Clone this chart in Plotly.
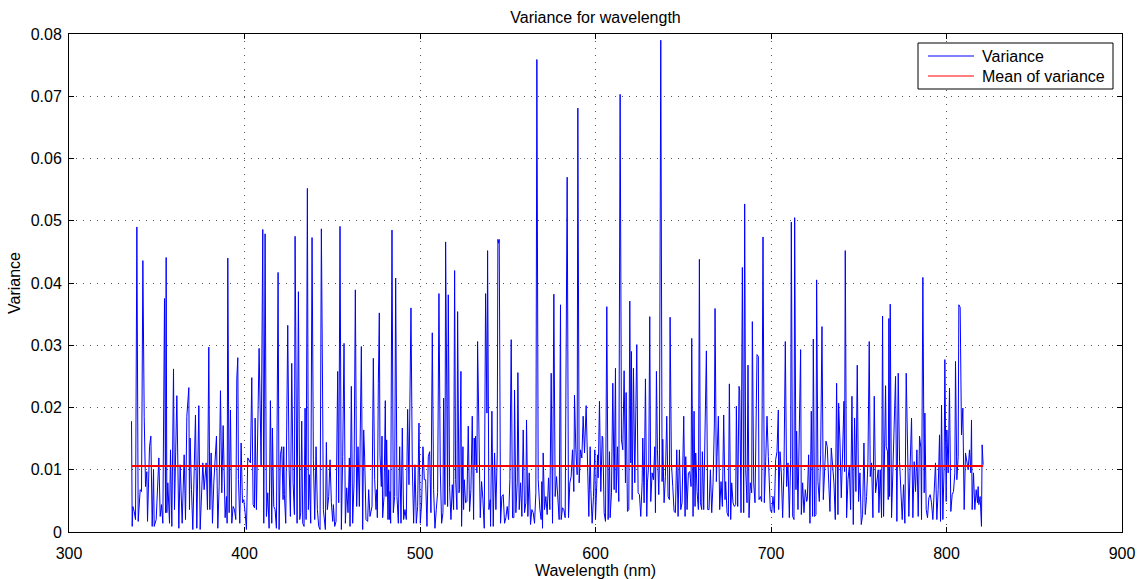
import plotly.graph_objects as go

# ---- data (wavelength in nm, variance) ----
wl_1 = [335.63, 336.01, 336.39, 337.15, 337.91, 338.67, 339.43, 340.57, 341.33, 342.09, 342.85, 343.61, 344.36, 344.74,
        345.88, 346.64, 347.40, 348.16, 348.54, 349.68, 351.20, 351.96, 352.71, 353.47, 354.42, 354.99, 355.37, 355.75,
        356.32, 357.27, 357.84, 358.60, 359.55, 360.12, 361.44, 362.01, 362.58, 363.34, 364.48, 365.62, 366.38, 367.14,
        368.28, 368.65, 369.03, 369.79, 370.55, 372.07, 372.83, 373.97, 374.73, 376.25, 377.00, 378.14, 378.90, 379.66]
var_1 = [0.0178, 0.0009, 0.0041, 0.0033, 0.0020, 0.0490, 0.0017, 0.0068, 0.0065, 0.0436, 0.0186, 0.0073, 0.0097, 0.0017,
         0.0137, 0.0154, 0.0009, 0.0100, 0.0009, 0.0020, 0.0119, 0.0025, 0.0044, 0.0014, 0.0375, 0.0031, 0.0441, 0.0031,
         0.0079, 0.0014, 0.0132, 0.0009, 0.0262, 0.0036, 0.0219, 0.0089, 0.0006, 0.0108, 0.0014, 0.0124, 0.0020, 0.0186,
         0.0232, 0.0036, 0.0151, 0.0068, 0.0004, 0.0188, 0.0006, 0.0203, 0.0004, 0.0111, 0.0068, 0.0111, 0.0036, 0.0297]

wl_2 = [380.24, 381.00, 381.75, 382.51, 383.27, 384.03, 384.79, 385.55, 386.31, 387.07, 387.83, 388.97, 389.72, 390.10,
        390.48, 391.24, 392.00, 392.76, 393.52, 394.28, 395.04, 395.61, 396.18, 396.56, 397.32, 398.07, 398.83, 399.59,
        400.35, 401.11, 401.87, 402.63, 403.39, 404.15, 404.91, 405.67, 406.05, 406.80, 407.56, 408.32, 409.08, 409.46,
        410.41, 410.98, 411.74, 412.50, 413.26, 414.02, 414.77, 415.53, 415.91, 416.67, 417.43, 418.19, 419.14, 419.71,
        420.47, 421.23, 421.99, 422.37, 422.74, 423.50, 424.64, 425.40, 426.16, 426.92, 427.68, 428.44, 428.82, 429.58,
        429.96, 430.72, 431.47]
var_2 = [0.0036, 0.0127, 0.0014, 0.0079, 0.0124, 0.0154, 0.0006, 0.0073, 0.0227, 0.0063, 0.0171, 0.0023, 0.0057, 0.0014,
         0.0440, 0.0031, 0.0196, 0.0014, 0.0041, 0.0036, 0.0020, 0.0246, 0.0280, 0.0084, 0.0014, 0.0143, 0.0047, 0.0052,
         0.0031, 0.0004, 0.0119, 0.0116, 0.0111, 0.0248, 0.0044, 0.0039, 0.0183, 0.0036, 0.0159, 0.0295, 0.0175, 0.0105,
         0.0486, 0.0014, 0.0479, 0.0025, 0.0063, 0.0006, 0.0211, 0.0014, 0.0167, 0.0041, 0.0036, 0.0006, 0.0417, 0.0004,
         0.0124, 0.0137, 0.0052, 0.0137, 0.0060, 0.0014, 0.0332, 0.0105, 0.0025, 0.0271, 0.0079, 0.0028, 0.0475, 0.0089,
         0.0014, 0.0386, 0.0020]

wl_3 = [432.04, 432.61, 433.18, 433.94, 434.51, 435.08, 435.83, 436.40, 436.97, 437.73, 438.49, 439.25, 440.01, 440.77,
        441.53, 442.29, 443.05, 443.80, 444.56, 444.94, 446.08, 446.65, 447.22, 447.98, 448.74, 449.50, 450.26, 450.64,
        451.40, 452.15, 453.10, 453.67, 454.43, 455.19, 455.95, 456.71, 457.47, 458.23, 458.99, 459.75, 460.13, 460.88,
        461.64, 462.40, 463.16, 463.92, 464.68, 465.44, 466.58, 467.34, 467.91, 468.47, 469.23, 470.18, 470.75, 471.51,
        472.65, 473.41, 474.17, 474.93, 475.31, 475.69, 476.26, 476.82, 477.20, 477.96, 478.34, 478.72, 479.48, 480.24,
        480.62, 481.00, 481.76, 482.14, 482.52, 482.90, 483.28, 484.04, 484.80, 485.55]
var_3 = [0.0031, 0.0178, 0.0014, 0.0009, 0.0199, 0.0020, 0.0552, 0.0036, 0.0092, 0.0014, 0.0473, 0.0116, 0.0020, 0.0137,
         0.0036, 0.0009, 0.0004, 0.0487, 0.0199, 0.0036, 0.0004, 0.0144, 0.0036, 0.0057, 0.0116, 0.0047, 0.0017, 0.0044,
         0.0009, 0.0017, 0.0258, 0.0047, 0.0491, 0.0004, 0.0121, 0.0303, 0.0014, 0.0071, 0.0031, 0.0119, 0.0009, 0.0234,
         0.0014, 0.0079, 0.0389, 0.0041, 0.0137, 0.0041, 0.0298, 0.0004, 0.0164, 0.0119, 0.0020, 0.0017, 0.0068, 0.0025,
         0.0041, 0.0279, 0.0084, 0.0036, 0.0068, 0.0023, 0.0239, 0.0352, 0.0124, 0.0073, 0.0154, 0.0023, 0.0057, 0.0211,
         0.0057, 0.0148, 0.0020, 0.0100, 0.0020, 0.0065, 0.0014, 0.0485, 0.0031, 0.0057]

wl_4 = [486.13, 486.89, 487.65, 488.41, 489.17, 489.92, 490.68, 491.44, 492.20, 492.96, 493.72, 494.86, 495.62, 496.38,
        497.14, 497.89, 498.65, 499.41, 500.17, 500.93, 501.69, 502.45, 503.21, 503.97, 504.73, 505.49, 506.24, 507.00,
        507.76, 508.52, 509.28, 510.04, 510.80, 511.56, 512.32, 513.08, 513.46, 514.22, 514.59, 515.35, 515.73, 516.11,
        516.87, 517.63, 518.39, 519.15, 519.72, 520.29, 521.05, 521.43, 522.19, 522.56, 523.32, 523.70, 524.46, 524.84,
        525.22, 525.98, 526.74, 527.50, 528.26, 529.02, 529.78, 530.54, 530.91, 531.29, 531.67, 532.43, 532.81, 533.57,
        534.33, 535.09, 535.85, 536.61, 537.37, 538.13, 538.51, 539.26, 540.02]
var_4 = [0.0408, 0.0057, 0.0014, 0.0137, 0.0014, 0.0167, 0.0020, 0.0036, 0.0020, 0.0197, 0.0076, 0.0360, 0.0105, 0.0014,
         0.0108, 0.0014, 0.0041, 0.0175, 0.0014, 0.0047, 0.0137, 0.0084, 0.0084, 0.0009, 0.0121, 0.0129, 0.0031, 0.0320,
         0.0068, 0.0006, 0.0036, 0.0063, 0.0383, 0.0100, 0.0014, 0.0031, 0.0215, 0.0044, 0.0466, 0.0148, 0.0041, 0.0381,
         0.0071, 0.0020, 0.0076, 0.0036, 0.0420, 0.0084, 0.0036, 0.0354, 0.0063, 0.0068, 0.0258, 0.0009, 0.0137, 0.0036,
         0.0084, 0.0047, 0.0049, 0.0170, 0.0033, 0.0068, 0.0186, 0.0020, 0.0151, 0.0105, 0.0154, 0.0095, 0.0306, 0.0127,
         0.0023, 0.0081, 0.0052, 0.0006, 0.0383, 0.0191, 0.0452, 0.0036, 0.0052]

wl_5 = [540.21, 540.97, 541.73, 542.49, 543.25, 544.00, 544.38, 544.76, 545.14, 545.90, 546.66, 547.42, 548.18, 548.94,
        549.70, 550.46, 551.22, 551.97, 552.73, 553.49, 553.87, 554.63, 555.39, 555.77, 556.53, 557.29, 558.05, 558.81,
        559.57, 560.32, 560.70, 561.46, 562.22, 562.98, 563.74, 564.50, 565.26, 566.02, 566.59, 567.35, 568.30, 569.05,
        569.43, 569.81, 570.19, 570.95, 571.71, 572.47, 573.23, 573.99, 574.75, 575.51, 576.27, 577.02, 577.78, 578.54,
        579.30, 580.06, 580.44, 581.20, 581.96, 582.72, 583.86, 584.62, 585.37, 586.13, 586.89, 587.65, 588.03, 588.79,
        589.55, 589.93, 590.69, 591.45, 592.21, 592.97, 593.73]
var_5 = [0.0009, 0.0194, 0.0009, 0.0127, 0.0036, 0.0124, 0.0470, 0.0464, 0.0470, 0.0014, 0.0057, 0.0060, 0.0014, 0.0023,
         0.0041, 0.0020, 0.0084, 0.0309, 0.0023, 0.0023, 0.0228, 0.0031, 0.0079, 0.0256, 0.0036, 0.0079, 0.0025, 0.0164,
         0.0031, 0.0047, 0.0180, 0.0025, 0.0095, 0.0012, 0.0036, 0.0031, 0.0014, 0.0063, 0.0759, 0.0084, 0.0036, 0.0020,
         0.0081, 0.0006, 0.0127, 0.0036, 0.0057, 0.0028, 0.0087, 0.0036, 0.0255, 0.0014, 0.0382, 0.0057, 0.0089, 0.0047,
         0.0020, 0.0365, 0.0020, 0.0039, 0.0036, 0.0023, 0.0570, 0.0023, 0.0079, 0.0089, 0.0132, 0.0065, 0.0220, 0.0132,
         0.0092, 0.0681, 0.0079, 0.0132, 0.0119, 0.0186, 0.0127]

wl_6 = [594.68, 595.44, 596.20, 596.96, 597.34, 598.09, 598.85, 599.61, 599.99, 600.75, 601.13, 601.51, 602.27, 603.03,
        603.79, 604.17, 604.93, 605.69, 606.44, 607.20, 607.96, 608.34, 609.10, 609.86, 610.62, 611.38, 611.76, 612.52,
        613.28, 614.04, 614.79, 615.55, 616.31, 617.07, 617.45, 618.21, 618.97, 619.54, 620.11, 620.49, 620.87, 621.63,
        622.39, 623.52, 624.28, 625.04, 625.80, 626.56, 626.94, 627.70, 628.46, 629.22, 629.60, 630.36, 630.92, 631.49,
        632.25, 633.01, 633.77, 634.15, 634.72, 635.29, 636.05, 636.43, 637.19, 637.95, 638.33, 639.08, 639.84, 640.60,
        641.36, 642.12, 642.50, 643.26, 644.02, 644.78, 645.54, 646.30, 647.06, 647.81, 648.57, 649.33]
var_6 = [0.0203, 0.0084, 0.0025, 0.0137, 0.0068, 0.0014, 0.0057, 0.0132, 0.0020, 0.0079, 0.0124, 0.0087, 0.0210, 0.0065,
         0.0154, 0.0151, 0.0031, 0.0017, 0.0362, 0.0020, 0.0129, 0.0023, 0.0063, 0.0239, 0.0068, 0.0263, 0.0063, 0.0137,
         0.0049, 0.0703, 0.0148, 0.0132, 0.0259, 0.0079, 0.0224, 0.0033, 0.0036, 0.0371, 0.0111, 0.0290, 0.0052, 0.0263,
         0.0079, 0.0301, 0.0063, 0.0060, 0.0025, 0.0079, 0.0151, 0.0047, 0.0246, 0.0025, 0.0079, 0.0111, 0.0346, 0.0049,
         0.0095, 0.0084, 0.0137, 0.0031, 0.0258, 0.0132, 0.0060, 0.0111, 0.0790, 0.0081, 0.0149, 0.0047, 0.0089, 0.0186,
         0.0057, 0.0052, 0.0345, 0.0111, 0.0073, 0.0033, 0.0031, 0.0132, 0.0025, 0.0132, 0.0036, 0.0047]

wl_7 = [650.28, 651.04, 651.42, 652.17, 652.93, 653.69, 654.45, 654.83, 655.59, 656.16, 656.73, 657.11, 657.87, 658.63,
        659.20, 659.77, 660.52, 660.90, 661.66, 662.42, 663.18, 663.94, 664.70, 665.46, 666.22, 666.98, 667.74, 668.12,
        668.87, 669.25, 670.01, 670.77, 671.53, 672.29, 673.05, 673.81, 674.19, 674.95, 675.71, 676.28, 677.03, 677.60,
        678.36, 679.12, 679.88, 680.26, 681.02, 681.78, 682.16, 682.92, 683.68, 684.44, 685.00, 685.57, 686.33, 686.90,
        687.47, 688.23, 688.99, 689.37, 690.13, 690.89, 691.46, 692.03, 692.79, 693.16, 693.92, 694.68, 695.44, 696.20,
        696.96, 697.72, 698.48, 698.86, 699.62, 700.38, 701.14, 701.89, 702.65, 703.41, 704.17]
var_7 = [0.0186, 0.0025, 0.0121, 0.0036, 0.0095, 0.0097, 0.0073, 0.0311, 0.0025, 0.0194, 0.0041, 0.0127, 0.0065, 0.0036,
         0.0438, 0.0047, 0.0036, 0.0129, 0.0036, 0.0178, 0.0291, 0.0036, 0.0036, 0.0100, 0.0031, 0.0079, 0.0175, 0.0359,
         0.0081, 0.0121, 0.0186, 0.0036, 0.0081, 0.0041, 0.0188, 0.0052, 0.0081, 0.0031, 0.0025, 0.0238, 0.0020, 0.0079,
         0.0047, 0.0041, 0.0044, 0.0202, 0.0041, 0.0234, 0.0228, 0.0031, 0.0425, 0.0031, 0.0527, 0.0100, 0.0047, 0.0268,
         0.0023, 0.0079, 0.0063, 0.0338, 0.0079, 0.0047, 0.0230, 0.0285, 0.0282, 0.0052, 0.0057, 0.0049, 0.0474, 0.0047,
         0.0113, 0.0186, 0.0121, 0.0076, 0.0036, 0.0031, 0.0057, 0.0031, 0.0116, 0.0129, 0.0196]

wl_8 = [704.37, 705.13, 705.88, 706.64, 707.40, 708.16, 708.92, 709.68, 710.44, 711.20, 711.58, 712.34, 713.10, 713.48,
        714.23, 714.61, 715.37, 716.13, 716.89, 717.27, 718.03, 718.79, 719.55, 720.31, 720.69, 721.45, 722.21, 722.96,
        723.72, 724.10, 724.86, 725.62, 726.00, 726.76, 727.52, 728.28, 729.04, 729.80, 730.56, 731.31, 732.07, 732.83,
        733.59, 734.35, 735.11, 735.87, 736.63, 737.39, 738.15, 738.53, 739.28, 740.04, 740.80, 741.56, 741.94, 742.32,
        743.08, 743.84, 744.60, 745.36, 746.12, 746.88, 747.63, 748.39, 749.15, 749.91, 750.67, 751.43, 752.19, 752.95,
        753.71, 754.47, 755.23, 755.98]
var_8 = [0.0036, 0.0129, 0.0095, 0.0023, 0.0100, 0.0306, 0.0073, 0.0111, 0.0023, 0.0116, 0.0498, 0.0025, 0.0020, 0.0505,
         0.0068, 0.0162, 0.0036, 0.0140, 0.0293, 0.0028, 0.0079, 0.0031, 0.0068, 0.0049, 0.0052, 0.0124, 0.0014, 0.0194,
         0.0025, 0.0310, 0.0025, 0.0028, 0.0405, 0.0081, 0.0049, 0.0124, 0.0330, 0.0052, 0.0095, 0.0146, 0.0137, 0.0068,
         0.0033, 0.0135, 0.0111, 0.0079, 0.0020, 0.0239, 0.0028, 0.0207, 0.0146, 0.0055, 0.0127, 0.0210, 0.0097, 0.0452,
         0.0023, 0.0084, 0.0105, 0.0036, 0.0218, 0.0012, 0.0183, 0.0065, 0.0268, 0.0049, 0.0095, 0.0012, 0.0028, 0.0143,
         0.0028, 0.0057, 0.0111, 0.0306]

wl_9 = [756.55, 757.31, 758.07, 758.83, 759.59, 760.34, 761.10, 761.48, 762.24, 763.00, 763.57, 764.14, 765.28, 765.66,
        766.42, 766.80, 767.18, 767.56, 767.94, 768.69, 769.45, 770.21, 770.97, 771.73, 772.49, 773.25, 774.01, 774.77,
        775.53, 776.29, 777.04, 777.80, 778.56, 779.32, 780.08, 780.84, 781.60, 782.36, 783.12, 783.88, 784.64, 785.39,
        785.77, 786.53, 787.29, 787.67, 788.43, 789.19, 789.95, 790.71, 791.47, 792.23, 792.98, 793.74, 794.50, 795.26,
        796.02, 796.59, 797.16, 797.92, 798.68, 799.06, 799.82, 800.20, 800.96, 801.71, 802.47, 803.23, 803.99, 804.75,
        805.13, 805.89, 806.65, 807.03, 807.79, 808.55, 809.31, 810.06, 810.82, 811.58, 812.34, 813.10, 813.86, 814.24,
        814.62, 815.38, 816.14, 816.90, 817.66, 818.03, 818.41, 819.17, 819.93, 820.31, 820.88]
var_9 = [0.0089, 0.0111, 0.0023, 0.0218, 0.0063, 0.0087, 0.0100, 0.0031, 0.0100, 0.0023, 0.0347, 0.0025, 0.0235, 0.0137,
         0.0129, 0.0052, 0.0343, 0.0057, 0.0366, 0.0023, 0.0111, 0.0196, 0.0250, 0.0017, 0.0255, 0.0113, 0.0057, 0.0020,
         0.0076, 0.0014, 0.0255, 0.0156, 0.0025, 0.0111, 0.0183, 0.0023, 0.0113, 0.0065, 0.0132, 0.0025, 0.0154, 0.0135,
         0.0020, 0.0409, 0.0063, 0.0191, 0.0036, 0.0023, 0.0055, 0.0060, 0.0047, 0.0020, 0.0076, 0.0111, 0.0020, 0.0068,
         0.0156, 0.0017, 0.0204, 0.0020, 0.0111, 0.0277, 0.0049, 0.0164, 0.0095, 0.0231, 0.0033, 0.0060, 0.0065, 0.0095,
         0.0274, 0.0084, 0.0121, 0.0365, 0.0361, 0.0156, 0.0199, 0.0036, 0.0127, 0.0116, 0.0100, 0.0132, 0.0095, 0.0180,
         0.0036, 0.0095, 0.0036, 0.0068, 0.0047, 0.0073, 0.0044, 0.0057, 0.0009, 0.0140, 0.0108]

mean_variance = 0.0106

series_names = ["Variance", "Mean of variance"]
series_colors = ["#0000FF", "#FF0000"]
x_ticks = [300, 400, 500, 600, 700, 800, 900]
y_ticks = [0, 0.01, 0.02, 0.03, 0.04, 0.05, 0.06, 0.07, 0.08]
y_tick_labels = ["0", "0.01", "0.02", "0.03", "0.04", "0.05", "0.06", "0.07", "0.08"]

wl_parts = [wl_1, wl_2, wl_3, wl_4, wl_5, wl_6, wl_7, wl_8, wl_9]
var_parts = [var_1, var_2, var_3, var_4, var_5, var_6, var_7, var_8, var_9]
wavelength = []
variance = []
for w, v in zip(wl_parts, var_parts):
    n = min(len(w), len(v))
    wavelength += w[:n]
    variance += v[:n]

FONT = "Liberation Sans, Arial, Helvetica, sans-serif"
W, H = 1141, 579
ML, MR, MT, MB = 69, 19, 34, 47
PW, PH = W - ML - MR, H - MT - MB


def px_to_paper(px, py):
    return (px - ML) / PW, (H - MB - py) / PH


fig = go.Figure()
fig.add_trace(go.Scatter(x=wavelength, y=variance, mode="lines", name=series_names[0],
                         line=dict(color=series_colors[0], width=1), showlegend=False))
fig.add_trace(go.Scatter(x=[wavelength[0], wavelength[-1]], y=[mean_variance, mean_variance],
                         mode="lines", name=series_names[1],
                         line=dict(color=series_colors[1], width=2), showlegend=False))

# MATLAB-style legend box (drawn in paper coordinates)
bx0, by0 = px_to_paper(918, 89)
bx1, by1 = px_to_paper(1113, 43)
shapes = [dict(type="rect", xref="paper", yref="paper", x0=bx0, y0=by0, x1=bx1, y1=by1,
               line=dict(color="black", width=1), fillcolor="white", layer="above")]
annotations = []
for i, (name, color) in enumerate(zip(series_names, series_colors)):
    row_y = 56 + 20 * i
    lx0, ly = px_to_paper(928, row_y)
    lx1, _ = px_to_paper(974, row_y)
    tx, _ = px_to_paper(980, row_y)
    shapes.append(dict(type="line", xref="paper", yref="paper", x0=lx0, x1=lx1, y0=ly, y1=ly,
                       line=dict(color=color, width=1.2), layer="above"))
    annotations.append(dict(text=name, xref="paper", yref="paper", x=tx, y=ly,
                            xanchor="left", yanchor="middle", showarrow=False,
                            font=dict(size=16, color="black", family=FONT)))

axis_common = dict(
    automargin=False,
    showline=True, linecolor="black", linewidth=1, mirror="allticks",
    ticks="inside", ticklen=5, tickwidth=1, tickcolor="black",
    showgrid=True, gridcolor="#555555", gridwidth=1, griddash="1px,6px",
    zeroline=False, tickfont=dict(size=16, color="black", family=FONT),
)

fig.update_layout(
    width=W, height=H,
    margin=dict(l=ML, r=MR, t=MT, b=MB),
    paper_bgcolor="white", plot_bgcolor="white",
    font=dict(family=FONT, size=16, color="black"),
    title=dict(text="Variance for wavelength", x=0.5, xref="paper", xanchor="center",
               y=1 - 17 / H, yanchor="middle", font=dict(size=16, color="black", family=FONT)),
    xaxis=dict(range=[300, 900], tickvals=x_ticks, ticklabelstandoff=7,
               title=dict(text="Wavelength (nm)", standoff=5, font=dict(size=16)), **axis_common),
    yaxis=dict(range=[0, 0.08], tickvals=y_ticks, ticktext=y_tick_labels, ticklabelstandoff=3,
               title=dict(text="Variance", standoff=6, font=dict(size=16)), **axis_common),
    shapes=shapes,
    annotations=annotations,
    showlegend=False,
)

fig.write_html("out.html")
